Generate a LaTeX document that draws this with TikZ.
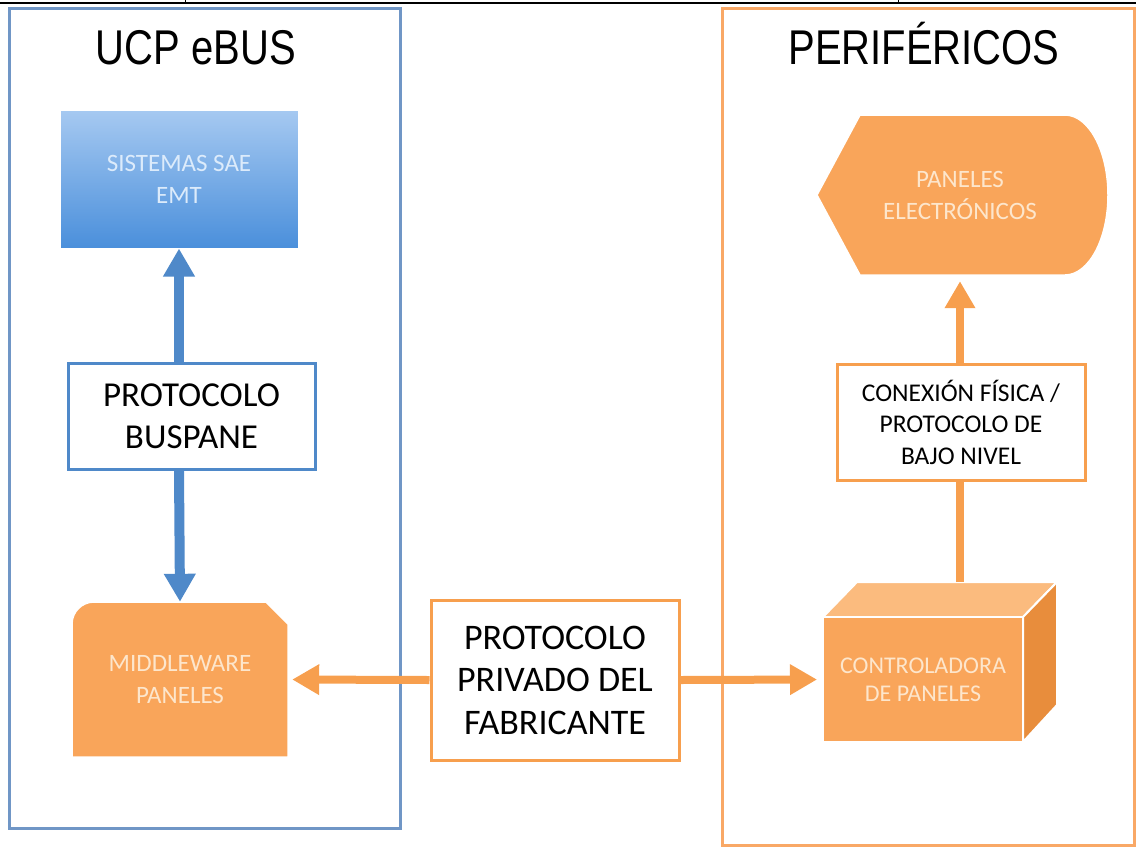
\documentclass[tikz,border=0pt]{standalone}
\usepackage{fontspec}
\usepackage{graphicx}
\setmainfont{Carlito}
\newfontfamily\titlefont{Liberation Sans}
\usetikzlibrary{arrows.meta}
\definecolor{bluefrm}{HTML}{7096C6}
\definecolor{bluearr}{HTML}{4F89C9}
\definecolor{bluetop}{HTML}{A6C9F1}
\definecolor{bluebot}{HTML}{4A8FDB}
\definecolor{orgfrm}{HTML}{F9A866}
\definecolor{orgarr}{HTML}{F79F4E}
\definecolor{orgfill}{HTML}{F9A55A}
\definecolor{orglight}{HTML}{FBBB7E}
\definecolor{orgdark}{HTML}{E88D3C}
\definecolor{paletxt}{HTML}{FDE6CC}
\definecolor{paleblue}{HTML}{DCEBFB}
\begin{document}
\begin{tikzpicture}[x=1pt,y=-1pt,
  frame/.style={line width=3pt},
  titletxt/.style={anchor=base,text=black,font=\titlefont\fontsize{40}{40}\selectfont},
  protobox/.style={draw,line width=3pt,fill=white,align=center,inner sep=0pt,text=black},
  shapetxt/.style={align=center,inner sep=0pt,font=\fontsize{25}{32}\selectfont},
  bluearrow/.style={draw=bluearr,line width=10pt,-{Triangle[length=28pt,width=30pt]}},
  orgarrow/.style={draw=orgarr,line width=8pt,-{Triangle[length=27pt,width=29pt]}},
  orgline/.style={draw=orgarr,line width=8pt}
]
\useasboundingbox (0,0) rectangle (1136,847);
% top rule
\draw[line width=2pt] (0,3) -- (1136,3);
\draw[line width=1pt] (185,0) -- (185,3);
\draw[line width=1pt] (898,0) -- (898,3);
% outer frames
\draw[frame,draw=bluefrm] (9,8) rectangle (400,828);
\draw[frame,draw=orgfrm] (722,8) rectangle (1134,845);
\node[titletxt] (t1) at (196,64) {\scalebox{1}[1.22]{UCP eBUS}};
\node[titletxt] (t2) at (924,64) {\scalebox{1}[1.22]{PERIFÉRICOS}};
% SISTEMAS SAE EMT
\node[shapetxt,top color=bluetop,bottom color=bluebot,draw=white,line width=1pt,
  minimum width=238pt,minimum height=138pt,text=paleblue] (sis) at (179,179)
  {SISTEMAS SAE\\EMT};
% Middleware shape
\fill[orgfill,draw=white,line width=1.5pt] (72,757) -- (72,624) arc[start angle=180,end angle=90,radius=22pt]
  -- (266,602) -- (288,624) -- (288,757) -- cycle;
\node[shapetxt,text=paletxt,minimum width=216pt,minimum height=155pt] (mw) at (180,679.5)
  {MIDDLEWARE\\PANELES};
% Protocolo buspane
\node[protobox,draw=bluearr,minimum width=247pt,minimum height=106pt,
  font=\fontsize{35}{42}\selectfont] (bus) at (191.5,416) {PROTOCOLO\\BUSPANE};
% Protocolo privado
\node[protobox,draw=orgarr,minimum width=248pt,minimum height=160pt,
  font=\fontsize{36}{42.5}\selectfont] (prv) at (555,680) {PROTOCOLO\\PRIVADO DEL\\FABRICANTE};
% Cube
\fill[orglight,draw=white,line width=2pt] (823,617) -- (857,582) -- (1057,582) -- (1023,617) -- cycle;
\fill[orgdark,draw=white,line width=2pt] (1023,617) -- (1057,582) -- (1057,705) -- (1023,742) -- cycle;
\node[shapetxt,fill=orgfill,draw=white,line width=2pt,text=paletxt,minimum width=200pt,minimum height=125pt,
  font=\fontsize{24}{28}\selectfont] (ctl) at (923,679.5) {CONTROLADORA\\DE PANELES};
\coordinate (ctltop) at (960,582);
% Paneles electronicos
\fill[orgfill,draw=white,line width=1.5pt] (860,115) -- (1065,115) arc[start angle=90,end angle=-90,x radius=43pt,y radius=80pt]
  -- (860,275) -- (817,195) -- cycle;
\node[shapetxt,text=paletxt,minimum width=248pt,minimum height=160pt] (pan) at (960,195)
  {PANELES\\ELECTRÓNICOS};
% Conexion fisica
\node[protobox,draw=orgarr,minimum width=248pt,minimum height=116pt,
  font=\fontsize{25.5}{31.5}\selectfont] (cnx) at (961,422) {CONEXIÓN FÍSICA /\\PROTOCOLO DE\\BAJO NIVEL};
% connectors
\draw[bluearrow] (sis.south |- bus.north) -- (sis.south);
\draw[bluearrow] (sis.south |- bus.south) -- (mw.north);
\draw[orgarrow,shorten >=4pt] (prv.west) -- (mw.east);
\draw[orgarrow,shorten >=5pt] (prv.east) -- (ctl.west);
\draw[orgline] (ctltop) -- (ctltop |- cnx.south);
\draw[orgarrow,shorten >=6pt] (ctltop |- cnx.north) -- (ctltop |- pan.south);
\end{tikzpicture}
\end{document}
